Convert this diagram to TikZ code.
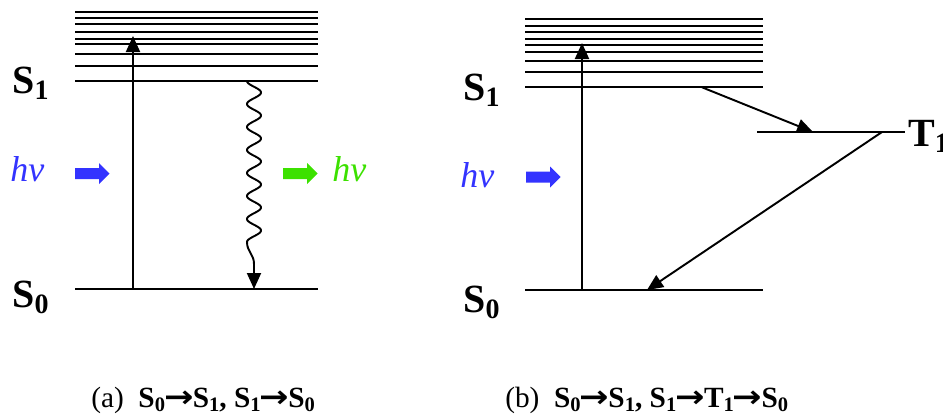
\documentclass[tikz,border=0pt]{standalone}
\usepackage{fontspec}
\usepackage{graphicx}
\setmainfont{Liberation Serif}
\newfontfamily\arrowfont{DejaVu Sans}
\usetikzlibrary{arrows.meta}
\definecolor{hvblue}{RGB}{51,51,255}
\definecolor{hvgreen}{RGB}{60,225,0}
\newcommand\lvl[2]{\textbf{#1\raisebox{-0.15em}{\scalebox{0.7}{#2}}}}
\newcommand\csub[2]{#1\raisebox{-0.15em}{\scalebox{0.7}{#2}}}
\newcommand\tto{{\arrowfont\bfseries\kern-0.03em\scalebox{1.2}[1.05]{→}\kern-0.03em}}
\newcommand\blockarrow[3]{\fill[#3] (#1,#2) ++(0,-5.5) -- ++(24,0) -- ++(0,-5) -- ++(10.5,10.5) -- ++(-10.5,10.5) -- ++(0,-5) -- ++(-24,0) -- cycle;}
\tikzset{
  level/.style={line width=1.5pt},
  trans/.style={line width=1.45pt,-{Triangle[length=12pt,width=10.5pt]}},
  lab/.style={anchor=base west,inner sep=0pt,font=\fontsize{30}{30}\selectfont},
  hvlab/.style={anchor=base west,inner sep=0pt,font=\fontsize{27}{27}\selectfont\itshape},
  caplab/.style={anchor=base west,inner sep=0pt,font=\fontsize{22}{22}\selectfont}
}
\begin{document}
\begin{tikzpicture}[x=0.75pt,y=-0.75pt]
\useasboundingbox (0,0) rectangle (943,414);
% ---------- panel (a) ----------
\foreach \yy in {12,18.3,24.3,32.3,38.7,44.3,54.3,65.7}
  \draw[level] (75,\yy) -- (318,\yy);
\coordinate (aS1w) at (75,81);
\coordinate (aS1e) at (318,81);
\coordinate (aS0w) at (75,289);
\coordinate (aS0e) at (318,289);
\draw[level] (aS1w) -- (aS1e);
\draw[level] (aS0w) -- (aS0e);
\coordinate (aUpStart) at (133,289);
\coordinate (aUpEnd) at (133,36);
\draw[trans] (aUpStart) -- (aUpEnd);
\coordinate (aWaveEnd) at (254,289);
\draw[trans] plot[domain=0:7,samples=300,smooth,variable=\t] ({254-7*cos(360*\t)},{81+23*\t})
  .. controls (247,252) and (254,254) .. (254,264) -- (aWaveEnd);
\node[lab] (aS1) at (12,93) {\lvl{S}{1}};
\node[lab] (aS0) at (12,307) {\lvl{S}{0}};
\node[hvlab,text=hvblue] (ahv) at (10,181) {hv};
\blockarrow{75}{173.5}{hvblue}
\blockarrow{283}{173.5}{hvgreen}
\node[hvlab,text=hvgreen] (ahv2) at (332,181) {hv};
\node[caplab] (acap) at (91,407) {(a)\ \ \textbf{\csub{S}{0}\tto\csub{S}{1}, \csub{S}{1}\tto\csub{S}{0}}};
% ---------- panel (b) ----------
\foreach \yy in {19.3,25.7,31.7,39.3,45,51.7,61,72}
  \draw[level] (525,\yy) -- (763,\yy);
\coordinate (bS1w) at (525,87.3);
\coordinate (bS1e) at (763,87.3);
\coordinate (bS0w) at (525,290);
\coordinate (bS0e) at (763,290);
\coordinate (bT1w) at (757,132);
\coordinate (bT1e) at (905,132);
\draw[level] (bS1w) -- (bS1e);
\draw[level] (bS0w) -- (bS0e);
\draw[level] (bT1w) -- (bT1e);
\coordinate (bUpStart) at (582,290);
\coordinate (bUpEnd) at (582,43);
\draw[trans] (bUpStart) -- (bUpEnd);
\coordinate (bIscStart) at (702,87.3);
\coordinate (bIscEnd) at (813,132);
\draw[trans] (bIscStart) -- (bIscEnd);
\coordinate (bPhStart) at (882,132);
\coordinate (bPhEnd) at (647,290);
\draw[trans] (bPhStart) -- (bPhEnd);
\node[lab] (bS1) at (463,100) {\lvl{S}{1}};
\node[lab] (bS0) at (463,312) {\lvl{S}{0}};
\node[lab] (bT1) at (908,146) {\lvl{T}{1}};
\node[hvlab,text=hvblue] (bhv) at (460,187) {hv};
\blockarrow{526}{177}{hvblue}
\node[caplab] (bcap) at (505,407) {(b)\ \ \textbf{\csub{S}{0}\tto\csub{S}{1}, \csub{S}{1}\tto\csub{T}{1}\tto\csub{S}{0}}};
\end{tikzpicture}
\end{document}
